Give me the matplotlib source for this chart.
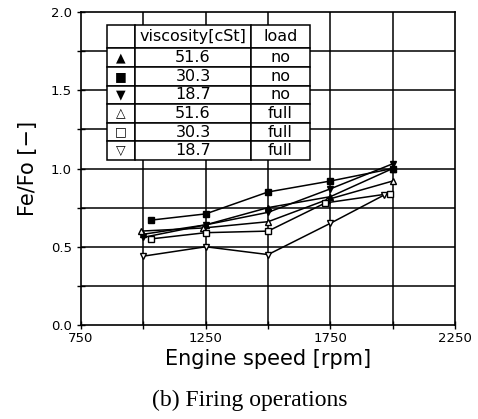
import matplotlib
matplotlib.use("Agg")
import matplotlib.pyplot as plt

# engine speed [rpm] and Fe/Fo [-] per series
x_tri_no = [1000, 1250, 1500, 1750, 2000]
y_tri_no = [0.58, 0.64, 0.75, 0.82, 1.00]
x_sq_no = [1030, 1250, 1500, 1750, 2000]
y_sq_no = [0.67, 0.71, 0.85, 0.92, 1.00]
x_tridn_no = [1000, 1250, 1500, 1750, 2000]
y_tridn_no = [0.56, 0.64, 0.72, 0.87, 1.03]
x_tri_full = [990, 1240, 1500, 1735, 2000]
y_tri_full = [0.60, 0.62, 0.66, 0.80, 0.92]
x_sq_full = [1030, 1250, 1500, 1730, 1990]
y_sq_full = [0.55, 0.59, 0.60, 0.78, 0.84]
x_tridn_full = [1000, 1250, 1500, 1750, 1965]
y_tridn_full = [0.44, 0.50, 0.45, 0.65, 0.83]

table_symbols = ["\u25B2", "\u25A0", "\u25BC", "\u25B3", "\u25A1", "\u25BD"]
table_visc = ["51.6", "30.3", "18.7", "51.6", "30.3", "18.7"]
table_load = ["no", "no", "no", "full", "full", "full"]
x_ticks = [750, 1250, 1750, 2250]
y_ticks = [0.0, 0.5, 1.0, 1.5, 2.0]

fig = plt.figure(figsize=(4.78, 4.19), dpi=100)
ax = fig.add_axes([0.1695, 0.2243, 0.7825, 0.7471])

for v in [1000, 1250, 1500, 1750, 2000]:
    ax.axvline(v, color="black", lw=1.1, zorder=1)
for h in [0.25, 0.5, 0.75, 1.0, 1.25, 1.5, 1.75]:
    ax.axhline(h, color="black", lw=1.1, zorder=1)

series = [
    (x_tri_no, y_tri_no, "^", "black"),
    (x_sq_no, y_sq_no, "s", "black"),
    (x_tridn_no, y_tridn_no, "v", "black"),
    (x_tri_full, y_tri_full, "^", "white"),
    (x_sq_full, y_sq_full, "s", "white"),
    (x_tridn_full, y_tridn_full, "v", "white"),
]
for xs, ys, m, fc in series:
    ax.plot(xs, ys, color="black", lw=1.1, marker=m, ms=5,
            mfc=fc, mec="black", mew=1.0, zorder=3)

ax.set_xlim(750, 2250)
ax.set_ylim(0, 2.0)
ax.set_xticks(x_ticks)
ax.set_xticks([1000, 1500, 2000], minor=True)
ax.set_yticks(y_ticks)
ax.set_yticks([0.25, 0.75, 1.25, 1.75], minor=True)
ax.set_yticklabels([f"{t:.1f}" for t in y_ticks])
ax.tick_params(axis="both", which="both", direction="inout", length=6,
               width=1.0, labelsize=9.5)
ax.tick_params(axis="x", pad=2)
for s in ax.spines.values():
    s.set_linewidth(1.2)

ax.set_xlabel("Engine speed [rpm]", fontsize=15, labelpad=3)
ax.set_ylabel("Fe/Fo [\u2212]", fontsize=15, labelpad=9)

cell_text = [["", "viscosity[cSt]", "load"]]
cell_text += [[s, v, l] for s, v, l in zip(table_symbols, table_visc, table_load)]
tbl = ax.table(cellText=cell_text, colWidths=[0.138, 0.571, 0.29],
               cellLoc="center", bbox=[0.0695, 0.527, 0.5425, 0.431])
tbl.auto_set_font_size(False)
tbl.set_fontsize(11.5)
tbl.set_zorder(4)
for (r, c), cell in tbl.get_celld().items():
    cell.set_facecolor("white")
    cell.set_edgecolor("black")
    cell.set_linewidth(1.1)
    if r == 0:
        cell.set_height(cell.get_height() * 1.25)
    if c == 0:
        cell.get_text().set_fontsize(9)

fig.text(0.523, 0.045, "(b) Firing operations", ha="center", va="center",
         fontsize=17, family="Liberation Serif")

fig.savefig("out.png", dpi=100)
